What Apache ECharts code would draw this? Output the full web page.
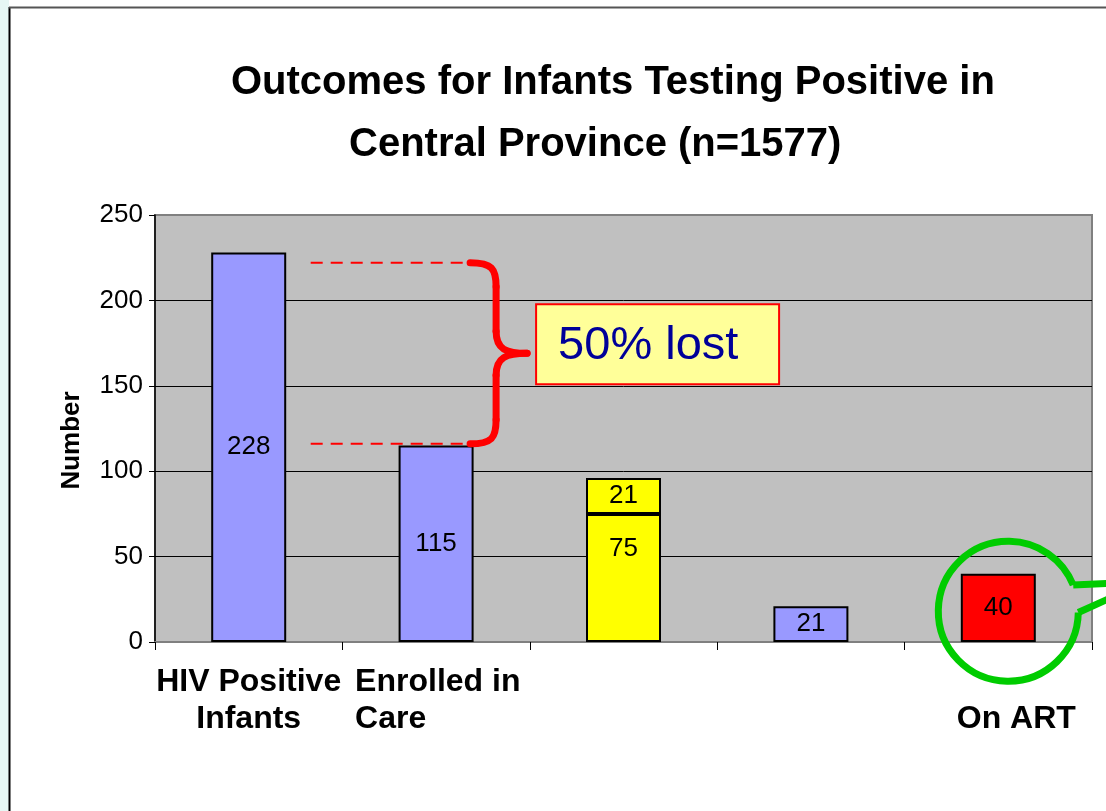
<!DOCTYPE html>
<html>
<head>
<meta charset="utf-8">
<script src="https://cdn.jsdelivr.net/npm/echarts@6/dist/echarts.min.js"></script>
<style>
html,body{margin:0;padding:0;background:#fff;}
#main{width:1106px;height:811px;}
</style>
</head>
<body>
<div id="main"></div>
<script>
// ---- data ----
var categories = ['HIV Positive\nInfants', 'Enrolled in\nCare', '', '', 'On ART'];
var blueValues = [228, 115, '-', 21, '-'];
var yellowLower = ['-', '-', 75, '-', '-'];
var yellowUpper = ['-', '-', 21, '-', '-'];
var redValues = ['-', '-', '-', '-', 40];
var yTicks = [0, 50, 100, 150, 200, 250];
var titleLines = ['Outcomes for Infants Testing Positive in', 'Central Province (n=1577)'];
var lostText = '50% lost';
var lostFrom = 222, lostTo = 116;

var FONT = "'Liberation Sans', Arial, sans-serif";
var chart = echarts.init(document.getElementById('main'));

function barSeries(name, data, color, labelExtra) {
  var label = {
    show: true, position: 'inside', color: '#000',
    fontFamily: FONT, fontSize: 26
  };
  if (labelExtra) for (var k in labelExtra) label[k] = labelExtra[k];
  return {
    name: name, type: 'bar', stack: 'all', data: data, barWidth: 75,
    itemStyle: { color: color, borderColor: '#000', borderWidth: 2 },
    label: label, animation: false
  };
}

var catFont = { fontFamily: FONT, fontSize: 32, fontWeight: 'bold', lineHeight: 37, color: '#000' };

var option = {
  animation: false,
  title: [
    { text: titleLines[0], left: 231, top: 63, padding: 0,
      textStyle: { fontFamily: FONT, fontSize: 40, fontWeight: 'bold', color: '#000' } },
    { text: titleLines[1], left: 349, top: 125, padding: 0,
      textStyle: { fontFamily: FONT, fontSize: 40, fontWeight: 'bold', color: '#000' } }
  ],
  grid: {
    left: 155, right: 14, top: 215, bottom: 169,
    show: true, backgroundColor: '#c0c0c0', borderColor: '#808080', borderWidth: 2
  },
  xAxis: {
    type: 'category', data: categories,
    axisLine: { lineStyle: { color: '#808080', width: 2 } },
    axisTick: { show: true, length: 8, lineStyle: { color: '#000' } },
    axisLabel: {
      interval: 0, margin: 22, color: '#000',
      fontFamily: FONT, fontSize: 32, fontWeight: 'bold', lineHeight: 37,
      formatter: function (v, i) {
        if (i === 1) {
          return v.split('\n').map(function (p) { return '{l|' + p + '}'; }).join('\n');
        }
        if (i === 4) return '{r|}\n{r|' + v + '}';
        return v;
      },
      rich: {
        l: Object.assign({ width: 176, align: 'left', padding: [0, 0, 0, 14] }, catFont),
        r: Object.assign({ padding: [0, 0, 0, 36] }, catFont)
      }
    }
  },
  yAxis: {
    type: 'value', min: yTicks[0], max: yTicks[yTicks.length - 1], interval: 50,
    name: 'Number', nameLocation: 'middle', nameGap: 70, nameRotate: 90,
    nameTextStyle: { fontFamily: FONT, fontSize: 26, fontWeight: 'bold', color: '#000', padding: [0, 24, 0, 0] },
    axisLine: { show: true, lineStyle: { color: '#000', width: 1.5 } },
    axisTick: { show: true, length: 6, lineStyle: { color: '#000' } },
    axisLabel: { margin: 12, color: '#000', fontFamily: FONT, fontSize: 26 },
    splitLine: { show: true, lineStyle: { color: ['#808080', '#000', '#000', '#000', '#000', '#808080'], width: 1 } }
  },
  series: [
    barSeries('Enrolled', blueValues, '#9999ff'),
    barSeries('Yellow lower', yellowLower, '#ffff00', { position: 'insideTop', distance: 22 }),
    barSeries('Yellow upper', yellowUpper, '#ffff00'),
    barSeries('On ART', redValues, '#ff0000')
  ]
};
chart.setOption(option);

// ---- annotations positioned through the chart's scales ----
var p0 = chart.convertToPixel({ gridIndex: 0 }, [0, lostFrom]);
var p1 = chart.convertToPixel({ gridIndex: 0 }, [1, lostTo]);
var yTop = p0[1], yBot = p1[1];
var c0 = p0[0], c1 = p1[0];
var x0 = c0 + 62, x1 = c1 + 34;      // dashed line extents
var xb = x1 + 26, xt = x1 + 57;      // brace spine and tip
var yMid = (yTop + yBot) / 2;

var red = '#ff0000';
var braceStyle = { fill: null, stroke: red, lineWidth: 7, lineCap: 'round', lineJoin: 'round' };
function bez(ax, ay, c1x, c1y, c2x, c2y, bx, by) {
  return { type: 'bezierCurve', shape: { x1: ax, y1: ay, cpx1: c1x, cpy1: c1y, cpx2: c2x, cpy2: c2y, x2: bx, y2: by },
    style: braceStyle, silent: true, z: 100 };
}
function seg(ax, ay, bx, by, style) {
  return { type: 'line', shape: { x1: ax, y1: ay, x2: bx, y2: by }, style: style, silent: true, z: 100 };
}

var boxX = xt + 9, boxW = 243, boxH = 80;
var boxY = yMid - boxH / 2 - 9;

var cc = chart.convertToPixel({ gridIndex: 0 }, [4, 18]);
var cx = cc[0] + 10, cy = cc[1];
var R = 70;
var aLow = 1 * Math.PI / 180, aUp = -22 * Math.PI / 180;
var lowP = [cx + R * Math.cos(aLow), cy + R * Math.sin(aLow)];
var upP = [cx + R * Math.cos(aUp), cy + R * Math.sin(aUp)];
var green = '#00cc00';
var greenStyle = { fill: null, stroke: green, lineWidth: 7, lineCap: 'butt' };

var dashStyle = { stroke: red, lineWidth: 2, lineDash: [12, 8] };

chart.setOption({
  graphic: [
    { type: 'rect', shape: { x: 0, y: 0, width: 9, height: 811 }, style: { fill: '#e6f7f4' }, silent: true, z: 0 },
    seg(9.5, 7, 9.5, 811, { stroke: '#000', lineWidth: 2 }),
    seg(9, 7.5, 1106, 7.5, { stroke: '#555', lineWidth: 2 }),
    seg(x0, yTop, x1, yTop, dashStyle),
    seg(x0, yBot, x1, yBot, dashStyle),
    bez(x1, yTop, xb - 4, yTop, xb, yTop + 6, xb, yTop + 24),
    seg(xb, yTop + 24, xb, yMid - 22, braceStyle),
    bez(xb, yMid - 22, xb, yMid - 4, xb + 10, yMid, xt, yMid),
    bez(xt, yMid, xb + 10, yMid, xb, yMid + 4, xb, yMid + 22),
    seg(xb, yMid + 22, xb, yBot - 24, braceStyle),
    bez(xb, yBot - 24, xb, yBot - 6, xb - 4, yBot, x1, yBot),
    { type: 'rect', shape: { x: boxX, y: boxY, width: boxW, height: boxH }, style: { fill: '#ffff99', stroke: red, lineWidth: 2 }, silent: true, z: 100 },
    { type: 'text', x: boxX + 22, y: boxY + boxH / 2 + 2, style: { text: lostText, fill: '#000099', font: '47px ' + FONT, textAlign: 'left', textVerticalAlign: 'middle' }, silent: true, z: 101 },
    { type: 'arc', shape: { cx: cx, cy: cy, r: R, startAngle: aLow, endAngle: aUp + 2 * Math.PI, clockwise: true }, style: greenStyle, silent: true, z: 100 },
    { type: 'polyline', shape: { points: [[1112, cy - 14], lowP] }, style: greenStyle, silent: true, z: 100 },
    { type: 'polyline', shape: { points: [upP, [1112, cy - 28]] }, style: greenStyle, silent: true, z: 100 }
  ]
});
</script>
</body>
</html>
